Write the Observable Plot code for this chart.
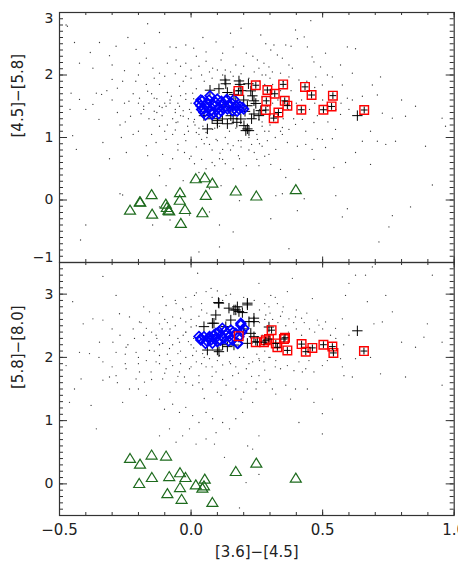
<!DOCTYPE html>
<html><head><meta charset="utf-8">
<script src="https://cdn.jsdelivr.net/npm/d3@7"></script>
<script src="https://cdn.jsdelivr.net/npm/@observablehq/plot@0.6"></script>
<style>
html,body{margin:0;padding:0;background:#fff;overflow:hidden;width:458px;height:572px;}
#wrap{position:relative;width:458px;height:572px;}
#wrap svg{position:absolute;left:0;background:transparent;}
</style></head><body><div id="wrap"></div>
<script>
// ---- axis labels ----
const xMajor = [-0.5, 0.0, 0.5, 1.0];
const xLabels = ["−0.5", "0.0", "0.5", "1.0"];
const yTopMajor = [-1, 0, 1, 2, 3];
const yTopLabels = ["−1", "0", "1", "2", "3"];
const yBotMajor = [0, 1, 2, 3];
const yBotLabels = ["0", "1", "2", "3"];
const xTitle = "[3.6]−[4.5]";
const yTopTitle = "[4.5]−[5.8]";
const yBotTitle = "[5.8]−[8.0]";

// ---- background field stars: [3.6]-[4.5], [4.5]-[5.8] ----
const dotsTop = [[-0.475,2.8],[-0.47,2.78],[-0.443,2.52],[-0.383,2.36],[-0.348,2.52],[-0.31,2.31],[-0.285,2.46],[-0.24,2.6],[-0.209,2.41],[-0.177,2.51],[-0.165,2.82],[-0.12,2.68],[-0.08,2.45],[-0.057,2.44],[-0.02,2.48],[0.01,2.43],[0.045,2.6],[0.057,2.37],[0.095,2.53],[0.12,2.35],[0.15,2.67],[0.16,2.45],[0.19,2.75],[0.21,2.35],[0.235,2.3],
[-0.424,2.19],[-0.373,2.11],[-0.3,2.16],[-0.253,2.07],[-0.196,2.19],[-0.2,2.0],[-0.17,2.27],[-0.145,2.11],[-0.12,2.03],[-0.09,2.19],[-0.057,2.24],[-0.04,2.14],[-0.02,2.19],[0.0,2.08],[0.02,2.3],[0.03,2.14],[0.057,2.22],[0.082,2.11],[0.114,2.24],[0.13,2.08],[0.17,2.16],[0.2,2.14],
[-0.456,1.71],[-0.46,1.45],[-0.424,1.61],[-0.4,1.45],[-0.36,1.71],[-0.34,1.69],[-0.373,1.53],[-0.35,1.29],[-0.3,1.93],[-0.28,1.79],[-0.253,1.55],[-0.236,1.58],[-0.23,1.34],[-0.21,1.9],[-0.196,1.63],[-0.18,1.45],[-0.165,1.74],[-0.16,1.55],[-0.14,1.63],[-0.14,1.29],[-0.13,1.4],[-0.12,1.18],[-0.095,1.5],[-0.08,1.55],[-0.075,1.66],[-0.06,1.4],[-0.057,1.24],[-0.044,1.82],[-0.044,1.5],[-0.03,1.34],[-0.02,1.61],[-0.013,1.18],[-0.006,1.45],[0.006,1.71],[0.013,1.29],[0.02,1.08],[0.03,1.4],[0.04,0.97],[0.045,1.18],[0.057,1.08],[0.07,0.89],[0.082,1.13],[0.095,0.97],[0.108,1.18],[0.12,0.81],[0.13,1.0],[0.146,1.1],[0.16,0.87],[0.18,0.71],[0.19,0.95],[0.21,1.13],[0.23,0.89],[0.24,0.76],
[-0.45,1.03],[-0.436,0.81],[-0.335,0.92],[-0.31,0.66],[-0.265,1.0],[-0.246,0.76],[-0.22,1.05],[-0.17,0.87],[-0.165,0.71],[-0.133,0.92],[-0.108,0.73],[-0.095,0.97],[-0.07,0.66],[-0.05,0.89],[-0.025,0.76],[-0.006,0.66],[0.013,0.58],[0.03,0.44],[0.057,0.5],[0.09,0.55],[0.108,0.66],[0.13,0.58],[0.16,0.5],[0.184,0.66],[0.21,0.55],
[-0.12,0.39],[-0.08,0.5],[-0.095,0.23],[-0.27,0.1],[-0.26,0.08],[-0.4,-0.4],[-0.42,-0.64],[-0.146,-0.4],[-0.08,-0.32],[-0.006,-0.24],[0.07,-0.19],[0.108,-0.4],[0.16,-0.51],[0.184,-0.01],[0.108,-0.75],[0.03,-0.83],[-0.12,-0.11],[-0.03,0.31],[0.07,0.18],[0.114,0.23],
[0.265,2.64],[0.284,2.5],[0.303,2.4],[0.315,2.48],[0.328,2.32],[0.347,2.27],[0.36,2.48],[0.372,2.16],[0.38,2.46],[0.397,2.72],[0.404,2.58],[0.43,2.61],[0.442,2.45],[0.455,2.87],[0.46,2.29],[0.467,2.21],[0.492,2.13],[0.511,2.35],[0.518,2.0],[0.568,2.16],[0.594,2.45],[0.613,2.03],[0.625,2.42],[0.72,1.97],[0.853,1.5],[0.954,1.31],[0.967,1.18],
[0.252,2.24],[0.258,2.11],[0.277,2.19],[0.296,2.13],[0.309,2.05],[0.284,2.0],[0.34,2.03],[0.372,1.97],[0.385,2.11],[0.41,1.92],[0.474,1.97],[0.499,1.84],[0.537,1.97],[0.575,1.84],[0.594,1.63],[0.613,1.6],[0.6,1.45],[0.568,1.37],[0.651,1.66],[0.689,1.84],[0.708,1.68],[0.727,1.39],[0.765,1.31],[0.815,1.34],[0.8,1.6],
[0.258,1.29],[0.27,1.18],[0.296,1.1],[0.322,1.24],[0.347,1.16],[0.372,1.13],[0.397,1.21],[0.423,1.29],[0.436,1.1],[0.467,1.24],[0.48,0.98],[0.499,0.97],[0.511,0.84],[0.537,0.98],[0.549,1.13],[0.46,0.81],[0.436,0.89],[0.404,0.86],[0.366,0.92],[0.347,1.05],[0.322,0.81],[0.296,0.73],[0.27,0.86],[0.252,0.97],[0.258,0.55],[0.303,0.57],[0.34,0.49],[0.36,0.36],[0.41,0.49],[0.467,0.65],[0.543,0.52],[0.587,0.6],[0.625,0.76],[0.651,0.94],[0.682,1.1],[0.708,0.94],[0.682,0.57],[0.74,0.89],[0.777,0.94],[0.891,0.86],[0.917,0.24],
[0.322,0.07],[0.347,0.1],[0.43,0.02],[0.404,-0.17],[0.303,-0.3],[0.55,0.07],[0.594,-0.14],[0.575,-0.27],[0.765,-0.25],[0.834,-0.11],[0.752,-0.43],[0.714,-0.67],[0.372,-0.78],
[-0.08,1.6],[-0.06,1.45],[-0.04,1.35],[-0.02,1.7],[0.0,1.55],[0.01,1.25],[0.02,1.78],[0.03,1.15],[-0.05,1.25],[-0.1,1.55],[-0.11,1.35],[-0.03,1.9],[0.0,1.95],[0.05,1.9],[0.08,1.95],[0.12,2.0],[0.16,1.98],[0.22,1.95],[0.26,1.9],[0.28,1.85],[0.3,1.95],[0.25,1.05],[0.28,1.1],[0.3,1.2],[0.22,1.0],[0.18,0.95],[0.14,0.9],[0.1,0.95],[0.06,1.0],[0.03,1.05],[-0.01,1.1],[-0.07,1.05],[0.33,1.6],[0.35,1.3],[0.38,1.75],[0.4,1.55],[0.27,1.65],[0.26,1.45],[0.29,1.5],[-0.15,1.7],[-0.18,1.5],[-0.12,1.85],
[-0.13,1.62],[-0.11,1.48],[-0.09,1.72],[-0.07,1.3],[-0.05,1.55],[-0.04,1.67],[-0.03,1.43],[-0.01,1.3],[0.0,1.4],[0.01,1.62],[0.02,1.5],[0.015,1.2],[-0.025,1.05],[-0.06,1.12],[-0.09,1.2],[-0.1,1.1],[-0.12,1.5],[-0.14,1.42],[-0.16,1.3],[-0.19,1.38],[-0.2,1.55],[-0.22,1.7],[-0.17,1.85],[-0.14,1.95],[-0.1,1.98],[-0.06,2.02],[-0.02,1.98],[0.04,2.0],[0.07,2.05],[0.1,2.08],[0.15,2.05],[0.19,2.02],[0.24,2.05],[0.27,2.0],[0.05,0.9],[0.08,0.8],[0.11,0.75],[0.15,0.8],[0.19,0.85],[0.22,0.8],[0.26,0.9],[0.29,0.95],[0.32,1.0],[0.34,1.1],[0.02,0.85],[-0.02,0.95],[-0.05,0.8],[0.0,0.7],[0.04,0.65],[0.08,0.6],[0.12,0.65],[0.25,0.65],[0.28,0.7],[0.32,1.4],[0.31,1.55],[0.34,1.75],[0.37,1.45],[0.39,1.3],[0.42,1.6],[0.45,1.45],[0.47,1.55],[0.5,1.6],[0.48,1.35],[0.52,1.25],[0.55,1.45],[0.57,1.55],[0.44,1.9],[0.47,1.8],[0.35,1.9],[0.31,1.85],[-0.25,1.25],[-0.28,1.4],[-0.3,1.6],[-0.27,1.2],[-0.2,1.1],[-0.15,1.05],[-0.32,1.75],[-0.26,1.9],[0.09,1.15],[0.17,1.15],[0.27,1.25],[0.3,1.35]];

// ---- background field stars: [3.6]-[4.5], [5.8]-[8.0] ----
const dotsBot = [[-0.335,3.28],[0.025,3.33],[-0.285,2.98],[-0.45,2.88],[-0.373,2.61],[-0.41,2.53],[-0.335,2.59],[-0.272,2.69],[-0.234,2.64],[-0.196,2.56],[-0.158,2.72],[-0.108,2.96],[-0.095,2.82],[-0.057,2.85],[-0.032,2.77],[0.013,2.98],[0.02,3.02],[0.057,3.04],[0.076,3.09],[0.133,2.98],[-0.07,2.64],[-0.02,2.56],[-0.12,2.53],[-0.133,2.35],[-0.17,2.46],[-0.215,2.3],[-0.247,2.16],[-0.297,2.24],[-0.348,2.24],[-0.424,2.08],[-0.386,2.06],[-0.335,1.93],[-0.285,2.08],[-0.209,2.08],[-0.158,2.11],[-0.12,2.03],[-0.082,2.14],[-0.044,2.24],[-0.02,2.4],[0.0,2.48],[-0.082,2.35],[-0.108,2.22],[-0.05,2.06],[-0.02,2.0],[0.006,2.03],[0.044,2.06],[0.07,1.98],[0.108,2.03],[0.146,1.93],[0.184,2.0],[0.21,1.82],[0.234,1.93],
[-0.475,1.87],[-0.462,1.29],[-0.443,1.5],[-0.418,1.66],[-0.38,1.24],[-0.36,0.87],[-0.335,1.64],[-0.31,1.69],[-0.285,1.71],[-0.247,1.82],[-0.234,1.5],[-0.209,1.66],[-0.196,1.77],[-0.177,1.61],[-0.152,1.77],[-0.133,1.93],[-0.108,1.66],[-0.095,1.82],[-0.07,1.87],[-0.057,1.61],[-0.044,1.77],[-0.025,1.69],[-0.006,1.82],[0.006,1.56],[0.02,1.93],[0.03,1.71],[0.044,1.5],[0.057,1.85],[0.076,1.61],[0.095,1.77],[0.114,1.4],[0.133,1.56],[0.158,1.71],[0.17,1.5],[0.19,1.34],[0.21,1.61],[0.234,1.29],[0.247,1.5],
[-0.26,1.29],[-0.17,1.4],[-0.12,1.34],[-0.101,1.18],[-0.07,1.26],[-0.044,1.13],[-0.02,1.21],[0.006,1.08],[0.03,0.97],[0.057,1.13],[0.082,1.03],[0.095,0.81],[0.12,0.97],[0.146,0.87],[0.17,1.03],[0.196,1.13],[-0.12,0.76],[-0.082,0.87],[-0.057,0.66],[-0.032,0.76],[-0.006,0.87],[0.019,0.63],[0.057,0.71],[0.089,0.63],[0.215,0.6],[0.234,0.55],[0.127,0.42],[0.209,0.02],[0.184,-0.38],
[0.258,3.17],[0.385,3.25],[0.366,3.04],[0.303,2.98],[0.328,2.85],[0.296,2.8],[0.347,2.72],[0.284,2.67],[0.372,2.61],[0.397,2.64],[0.42,2.62],[0.461,2.93],[0.48,2.59],[0.486,2.51],[0.511,2.56],[0.549,2.46],[0.575,2.61],[0.587,2.98],[0.6,3.17],[0.625,3.3],[0.663,3.3],[0.689,3.43],[0.67,2.88],[0.695,2.53],[0.727,2.56],[0.74,2.98],[0.765,2.72],[0.8,2.24],[0.853,2.16],[0.898,2.53],[0.917,3.3],[0.954,2.24],[0.885,2.32],
[0.258,1.98],[0.277,1.93],[0.296,2.0],[0.322,1.95],[0.34,1.82],[0.366,1.87],[0.391,1.79],[0.41,1.93],[0.436,1.82],[0.448,1.95],[0.467,1.77],[0.499,1.87],[0.518,1.95],[0.568,1.98],[0.575,1.85],[0.613,1.69],[0.625,1.98],[0.682,2.0],[0.72,1.74],[0.815,1.69],[0.954,1.56],[0.258,1.71],[0.284,1.61],[0.309,1.5],[0.322,1.42],[0.36,1.56],[0.378,1.34],[0.397,1.5],[0.442,1.5],[0.467,1.29],[0.499,1.11],[0.537,1.34],[0.41,0.97],[0.499,0.79],[0.258,0.76],[0.258,0.15],[0.581,1.71],[0.423,1.77],
[-0.05,2.3],[-0.02,2.4],[0.0,2.2],[0.02,2.1],[-0.08,2.45],[0.0,2.6],[0.03,2.65],[0.06,2.7],[0.05,2.0],[0.1,1.95],[0.15,1.9],[0.2,2.0],[0.25,2.05],[0.28,2.6],[0.3,2.7],[0.26,2.75],[0.24,2.9],[0.2,2.95],[0.15,3.0],[0.1,3.05],[-0.12,2.2],[-0.15,2.4],[-0.1,2.6],[-0.03,2.75],[0.28,2.1],[0.3,2.0],[0.33,2.55],[0.36,2.5],[0.4,2.45],[0.42,2.35],[0.27,2.35],[-0.2,2.0],[-0.25,1.9],
[-0.13,2.3],[-0.11,2.45],[-0.09,2.55],[-0.07,2.2],[-0.06,2.5],[-0.04,2.62],[-0.03,2.35],[-0.01,2.25],[0.01,2.3],[0.02,2.5],[0.01,2.15],[-0.04,2.1],[-0.09,2.05],[-0.14,2.1],[-0.16,2.25],[-0.18,2.35],[-0.19,2.55],[-0.22,2.45],[-0.24,2.2],[-0.27,2.35],[-0.3,2.45],[-0.25,2.05],[-0.2,1.9],[-0.17,1.95],[-0.12,1.9],[-0.08,1.95],[-0.04,1.9],[0.0,1.85],[0.04,1.9],[0.08,1.85],[0.12,1.88],[0.17,1.85],[0.22,1.9],[0.26,1.95],[-0.05,1.7],[-0.1,1.75],[-0.15,1.65],[-0.02,1.6],[0.03,1.6],[0.08,1.7],[0.12,1.65],[0.18,1.75],[0.23,1.7],[0.28,1.8],[0.32,1.85],[0.3,1.65],[-0.06,2.9],[-0.02,2.95],[0.04,2.85],[0.08,2.95],[0.12,2.9],[0.04,2.75],[0.0,2.8],[-0.12,2.7],[-0.18,2.8],[0.26,2.55],[0.29,2.5],[0.31,2.6],[0.34,2.65],[0.37,2.4],[0.39,2.55],[0.43,2.55],[0.45,2.45],[0.47,2.4],[0.5,2.45],[0.53,2.35],[0.55,2.3],[0.58,2.2],[0.6,2.35],[0.28,2.85],[0.32,2.95],[0.35,2.8],[0.4,2.75],[0.44,2.7],[0.25,1.6],[0.2,1.45],[0.1,1.45],[0.05,1.35],[-0.08,1.45],[-0.2,1.5],[-0.28,1.6],[-0.3,1.85],[-0.35,2.0]];

// ---- black plus sources ----
const plusTop = [[0.072,1.757],[0.106,1.78],[0.132,1.86],[0.186,1.85],[0.218,1.86],[0.227,1.746],[0.233,1.667],[0.239,1.587],[0.246,1.545],[0.214,1.508],[0.205,1.418],[0.189,1.297],[0.174,1.243],[0.151,1.349],[0.119,1.297],[0.1,1.227],[0.062,1.138],[0.049,1.349],[0.214,1.138],[0.201,1.19],[0.22,1.11],[0.265,1.43],[0.258,1.35],[0.157,1.48],[0.17,1.56],[0.138,1.72],[0.163,1.69],[0.632,1.35],[0.129,1.92],[0.182,1.905],[0.208,1.11],[0.239,1.376],[0.1,1.27],[0.138,1.22],[0.16,1.3],[0.2,1.6],[0.125,1.5],[0.08,1.3],[0.23,1.3],[0.19,1.75]];
const plusBot = [[0.106,2.857],[0.144,2.778],[0.163,2.75],[0.182,2.724],[0.214,2.83],[0.176,2.8],[0.195,2.708],[0.094,2.67],[0.081,2.54],[0.049,2.486],[0.062,2.116],[0.106,2.09],[0.138,2.17],[0.163,2.195],[0.214,2.222],[0.227,2.38],[0.239,2.327],[0.252,2.248],[0.22,2.565],[0.239,2.62],[0.632,2.42],[0.151,2.59],[0.132,2.486],[0.104,2.867],[0.214,2.857],[0.17,2.75],[0.239,2.565],[0.1,2.116],[0.087,2.54],[0.2,2.45],[0.12,2.2],[0.296,2.48]];

// ---- blue diamond sources ----
const diamTop = [[0.043,1.587],[0.049,1.455],[0.037,1.508],[0.072,1.667],[0.062,1.48],[0.081,1.535],[0.094,1.56],[0.106,1.48],[0.119,1.535],[0.132,1.587],[0.138,1.455],[0.157,1.43],[0.17,1.508],[0.182,1.455],[0.195,1.48],[0.087,1.4],[0.113,1.43],[0.075,1.43],[0.049,1.4],[0.1,1.614],[0.152,1.56],[0.163,1.61],[0.037,1.6],[0.136,1.61],[0.2,1.455],[0.06,1.55],[0.09,1.5],[0.125,1.47],[0.055,1.36],[0.08,1.37],[0.105,1.38],[0.145,1.5],[0.175,1.42],[0.04,1.45],[0.115,1.58],[0.185,1.5],[0.068,1.6],[0.03,1.55]];
const diamBot = [[0.037,2.275],[0.049,2.327],[0.068,2.3],[0.087,2.354],[0.106,2.406],[0.119,2.46],[0.138,2.38],[0.157,2.275],[0.176,2.222],[0.189,2.513],[0.201,2.46],[0.1,2.248],[0.081,2.222],[0.125,2.3],[0.151,2.433],[0.17,2.38],[0.182,2.327],[0.037,2.3],[0.189,2.54],[0.178,2.22],[0.06,2.26],[0.09,2.29],[0.115,2.35],[0.145,2.33],[0.13,2.42],[0.07,2.33],[0.03,2.33],[0.055,2.22],[0.095,2.38],[0.112,2.27],[0.16,2.4],[0.193,2.4],[0.142,2.26],[0.075,2.27]];

// ---- red boxed sources ----
const redTop = [[0.18,1.746],[0.246,1.836],[0.29,1.76],[0.318,1.7],[0.286,1.587],[0.284,1.44],[0.314,1.31],[0.332,1.4],[0.35,1.85],[0.356,1.587],[0.366,1.51],[0.419,1.444],[0.433,1.81],[0.458,1.68],[0.503,1.444],[0.534,1.497],[0.539,1.67],[0.658,1.44]];
const redBot = [[0.246,2.24],[0.277,2.24],[0.284,2.27],[0.296,2.29],[0.306,2.43],[0.322,2.22],[0.328,2.16],[0.353,2.29],[0.357,2.31],[0.366,2.11],[0.42,2.21],[0.436,2.09],[0.461,2.15],[0.503,2.2],[0.537,2.17],[0.541,2.07],[0.657,2.1]];
const redBotBare = [[0.181,2.335]];

// ---- green triangle sources ----
const triTop = [[-0.232,-0.159],[-0.195,-0.026],[-0.193,-0.03],[-0.15,0.09],[-0.148,-0.222],[-0.096,-0.063],[-0.086,-0.159],[-0.092,-0.116],[-0.083,-0.17],[-0.042,0.122],[-0.043,0.0],[-0.023,-0.148],[-0.039,-0.37],[0.018,0.344],[0.052,0.36],[0.081,0.275],[0.056,0.079],[0.043,-0.2],[0.17,0.148],[0.248,0.068],[0.398,0.17]];
const triBot = [[-0.232,0.406],[-0.194,0.317],[-0.15,0.46],[-0.095,0.444],[-0.197,0.01],[-0.149,0.105],[-0.083,0.12],[-0.042,0.18],[-0.021,0.105],[-0.042,-0.054],[-0.09,-0.15],[-0.036,-0.24],[0.018,-0.011],[0.043,-0.063],[0.052,0.079],[0.049,-0.027],[0.081,-0.29],[0.17,0.2],[0.248,0.333],[0.398,0.095]];

// ---- custom symbols ----
const rOf = s => Math.sqrt(s / Math.PI);
const plusSym = {draw(c, s){const r=rOf(s); c.moveTo(-r,0); c.lineTo(r,0); c.moveTo(0,-r); c.lineTo(0,r);}};
const squareSym = {draw(c, s){const r=rOf(s); c.moveTo(-r,-r); c.lineTo(r,-r); c.lineTo(r,r); c.lineTo(-r,r); c.closePath();}};
const diamondSym = {draw(c, s){const r=rOf(s); c.moveTo(0,-r); c.lineTo(r,0); c.lineTo(0,r); c.lineTo(-r,0); c.closePath();}};
const triSym = {draw(c, s){const r=rOf(s); c.moveTo(0,-0.95*r); c.lineTo(1.1*r,0.85*r); c.lineTo(-1.1*r,0.85*r); c.closePath();}};

const W = 458, ML = 59, MR = 4.3;
const FW = W - ML - MR;
const AX = "#333";
const TXT = "#222";
const font = {fontFamily: "'DejaVu Sans', sans-serif", fontSize: "14px", background: "transparent", overflow: "visible"};
const X = d => d[0], Y = d => d[1];

function tickMarks(yMinor, yMajor, FH) {
  const xMinor = d3.range(-5, 11).map(i => i / 10);
  return [
    Plot.tickX(xMinor, {x: d => d, insetTop: FH - 3, stroke: AX}),
    Plot.tickX(xMinor, {x: d => d, insetBottom: FH - 3, stroke: AX}),
    Plot.tickX(xMajor, {x: d => d, insetTop: FH - 5.5, stroke: AX}),
    Plot.tickX(xMajor, {x: d => d, insetBottom: FH - 5.5, stroke: AX}),
    Plot.tickY(yMinor, {y: d => d, insetRight: FW - 4, stroke: AX}),
    Plot.tickY(yMinor, {y: d => d, insetLeft: FW - 4, stroke: AX}),
    Plot.tickY(yMajor, {y: d => d, insetRight: FW - 8, stroke: AX}),
    Plot.tickY(yMajor, {y: d => d, insetLeft: FW - 8, stroke: AX}),
    Plot.frame({stroke: AX, strokeWidth: 1.2})
  ];
}

function sourceMarks(dots, plus, diam, red, redBare, tri) {
  return [
    Plot.dot(dots, {x: X, y: Y, r: 0.65, fill: "#3a3a3a", stroke: null}),
    Plot.dot(plus, {x: X, y: Y, symbol: plusSym, r: 5.2, stroke: "#000", strokeWidth: 1, fill: "none"}),
    Plot.dot(diam, {x: X, y: Y, symbol: diamondSym, r: 4.8, stroke: "#0000ff", strokeWidth: 1.7, fill: "none"}),
    Plot.dot(redBare, {x: X, y: Y, symbol: squareSym, r: 4.3, stroke: "#ff0000", strokeWidth: 1.4, fill: "none"}),
    Plot.dot(red, {x: X, y: Y, symbol: squareSym, r: 4.3, stroke: "#ff0000", strokeWidth: 1.4, fill: "none"}),
    Plot.dot(red, {x: X, y: Y, symbol: plusSym, r: 3.4, stroke: "#000", strokeWidth: 1, fill: "none"}),
    Plot.dot(tri, {x: X, y: Y, symbol: triSym, r: 5, stroke: "#1e6b1e", strokeWidth: 1.2, fill: "none"})
  ];
}

// ---- top panel ----
const topFH = 250;
const topPlot = Plot.plot({
  width: W, height: 263, marginTop: 12, marginBottom: 1, marginLeft: ML, marginRight: MR,
  style: font,
  x: {domain: [-0.5, 1.0], axis: null},
  y: {domain: [-1, 3], axis: null},
  marks: [
    ...sourceMarks(dotsTop, plusTop, diamTop, redTop, [], triTop),
    ...tickMarks(d3.range(-10, 31).map(i => i / 10), yTopMajor, topFH),
    Plot.text(yTopMajor.slice(1, 4), {y: d => d, text: (d, i) => yTopLabels[i + 1], frameAnchor: "left", dx: -6, textAnchor: "end", fill: TXT}),
    Plot.text(yTopMajor.slice(4), {y: d => d, text: () => yTopLabels[4], frameAnchor: "left", dx: -6, dy: 6, textAnchor: "end", fill: TXT}),
    Plot.text(yTopMajor.slice(0, 1), {y: d => d, text: () => yTopLabels[0], frameAnchor: "left", dx: -6, dy: -5, textAnchor: "end", fill: TXT}),
    Plot.text([yTopTitle], {frameAnchor: "left", rotate: -90, dx: -41, fill: TXT, fontSize: 15})
  ]
});
topPlot.style.top = "0px";

// ---- bottom panel ----
const botFH = 253;
const botPlot = Plot.plot({
  width: W, height: 322, marginTop: 12, marginBottom: 57, marginLeft: ML, marginRight: MR,
  style: font,
  x: {domain: [-0.5, 1.0], axis: null},
  y: {domain: [-0.5, 3.5], axis: null},
  marks: [
    ...sourceMarks(dotsBot, plusBot, diamBot, redBot, redBotBare, triBot),
    ...tickMarks(d3.range(-5, 36).map(i => i / 10), yBotMajor, botFH),
    Plot.text(yBotMajor, {y: d => d, text: (d, i) => yBotLabels[i], frameAnchor: "left", dx: -6, textAnchor: "end", fill: TXT}),
    Plot.text(xMajor, {x: d => d, text: (d, i) => xLabels[i], frameAnchor: "bottom", dy: 19, fill: TXT, fontSize: 15}),
    Plot.text([yBotTitle], {frameAnchor: "left", rotate: -90, dx: -41, fill: TXT, fontSize: 15}),
    Plot.text([xTitle], {frameAnchor: "bottom", dy: 41, fill: TXT, fontSize: 15})
  ]
});
botPlot.style.top = "250px";

const wrap = document.getElementById("wrap");
wrap.appendChild(topPlot);
wrap.appendChild(botPlot);
</script></body></html>
